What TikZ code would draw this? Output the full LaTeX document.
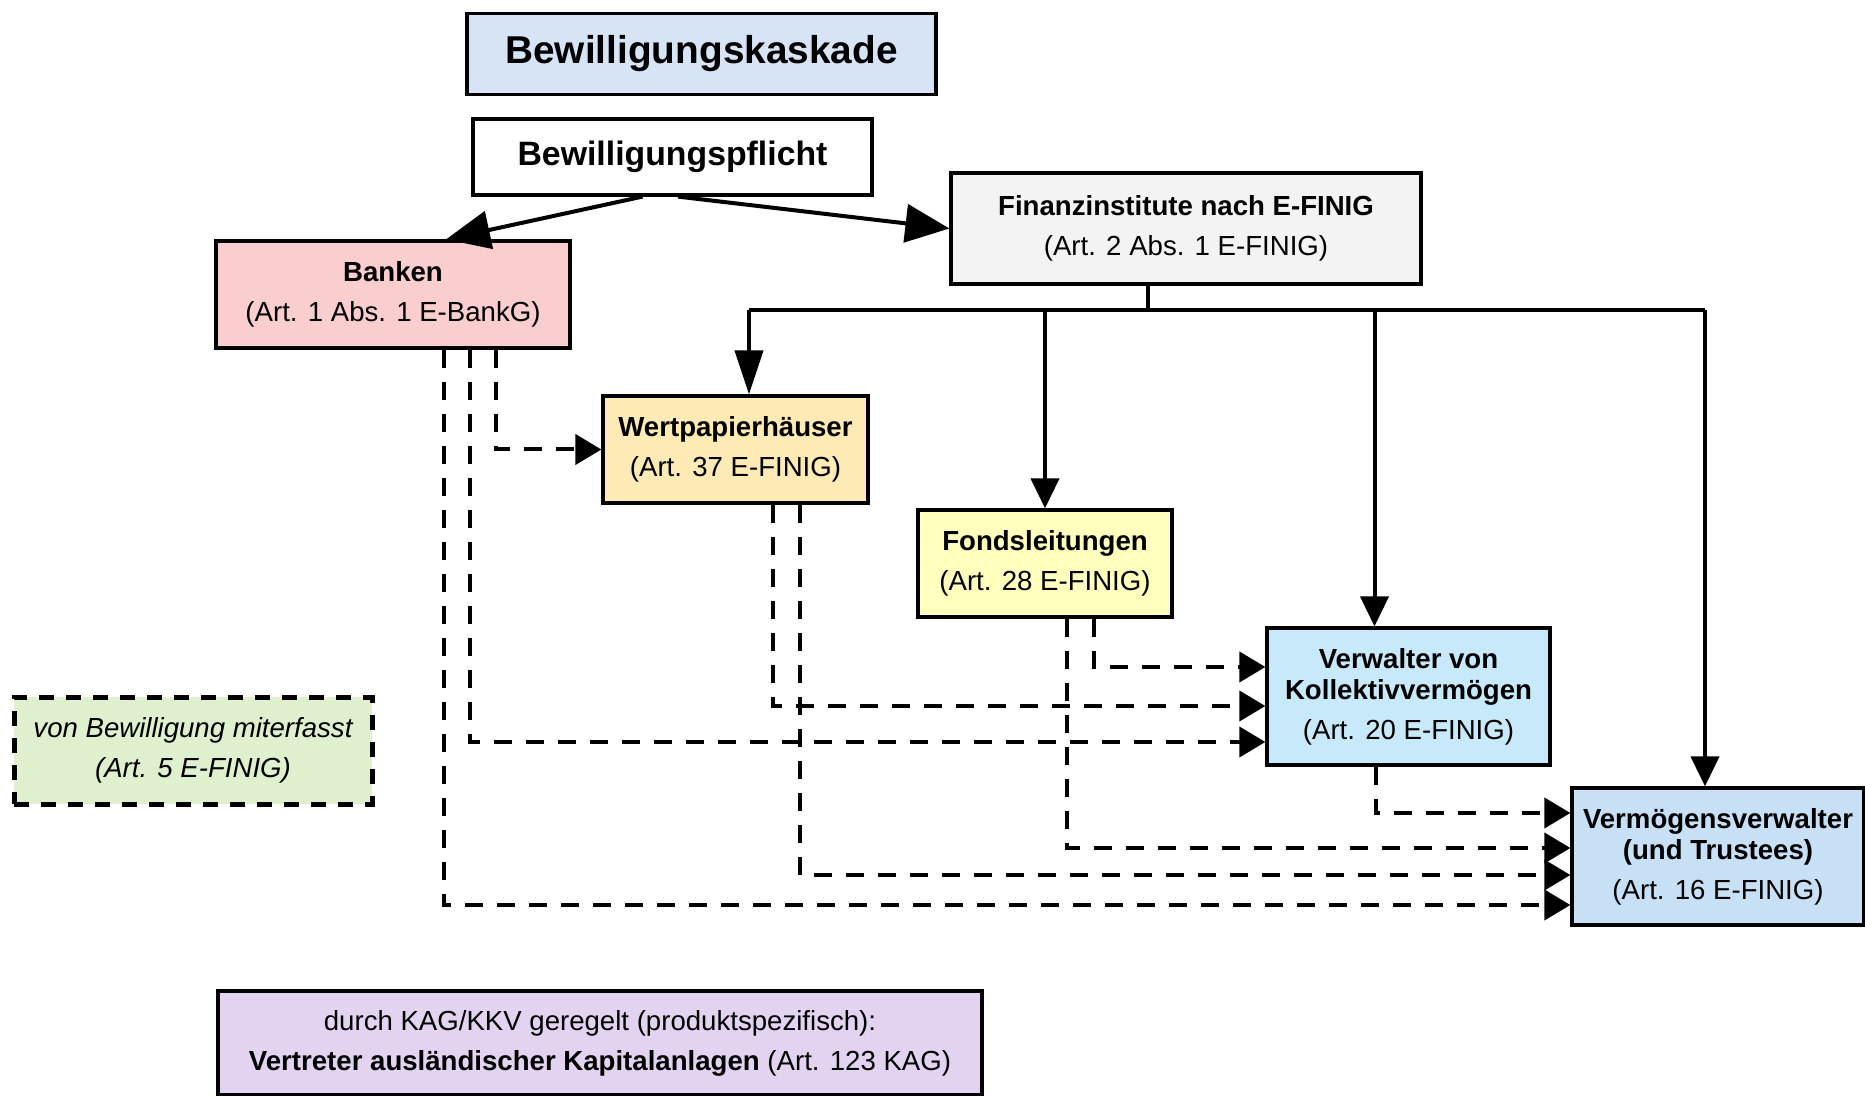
\documentclass[tikz,border=0pt]{standalone}
\usepackage{fontspec}
\setmainfont{Liberation Sans}
\usetikzlibrary{arrows.meta,calc}

\definecolor{titleblue}{RGB}{214,228,246}
\definecolor{fingrey}{RGB}{243,243,243}
\definecolor{bankpink}{RGB}{250,206,206}
\definecolor{wphorange}{RGB}{253,234,180}
\definecolor{fondsyellow}{RGB}{255,255,190}
\definecolor{vkvblue}{RGB}{200,233,250}
\definecolor{vvblue}{RGB}{200,224,245}
\definecolor{miterfgreen}{RGB}{222,240,206}
\definecolor{kaglila}{RGB}{226,212,240}

\newcommand{\boxfont}{\fontsize{13.8}{15.5}\selectfont}

\tikzset{
  box/.style={draw, line width=1.6pt, align=center, inner sep=0pt, font=\boxfont},
  conn/.style={line width=2pt},
  arr/.style={conn, -{Triangle[length=15pt,width=14pt]}},
  bigarr/.style={conn, -{Triangle[length=22pt,width=19pt]}},
  darr/.style={conn, dash pattern=on 9pt off 7pt, -{Triangle[length=13pt,width=15pt]}},
}

\begin{document}
\begin{tikzpicture}[x=0.5pt,y=-0.5pt]
\useasboundingbox (0,0) rectangle (1865,1096);

% boxes
\node[box, fill=titleblue, minimum width=234.5pt, minimum height=40.5pt,
  font=\fontsize{19.4}{22}\selectfont\bfseries] (kaskade) at (701.5,54) {Bewilligungskaskade};
\node[box, fill=white, minimum width=199.5pt, minimum height=38pt,
  font=\fontsize{16.9}{20}\selectfont\bfseries] (pflicht) at (672.5,157) {Bewilligungspflicht};
\node[box, fill=fingrey, minimum width=235pt, minimum height=55.5pt] (fin) at (1186,228.5)
  {\textbf{Finanzinstitute nach E-FINIG}\\[4.5pt](Art. 2 Abs. 1 E-FINIG)};
\node[box, fill=bankpink, minimum width=177pt, minimum height=53.5pt] (banken) at (393,294.5)
  {\textbf{Banken}\\[4.5pt](Art. 1 Abs. 1 E-BankG)};
\node[box, fill=wphorange, minimum width=132.5pt, minimum height=53.5pt] (wph) at (735.5,449.5)
  {\textbf{Wertpapierhäuser}\\[4.5pt](Art. 37 E-FINIG)};
\node[box, fill=fondsyellow, minimum width=127pt, minimum height=53.5pt] (fonds) at (1045,563.5)
  {\textbf{Fondsleitungen}\\[4.5pt](Art. 28 E-FINIG)};
\node[box, fill=vkvblue, minimum width=141.5pt, minimum height=68.5pt] (vkv) at (1408.5,696.5)
  {\textbf{Verwalter von}\\\textbf{Kollektivvermögen}\\[4.5pt](Art. 20 E-FINIG)};
\node[box, fill=vvblue, minimum width=146pt, minimum height=68.5pt] (vv) at (1718,856.5)
  {\textbf{Vermögensverwalter}\\\textbf{(und Trustees)}\\[4.5pt](Art. 16 E-FINIG)};
\node[box, fill=miterfgreen, line width=2.5pt, dash pattern=on 7.5pt off 6pt,
  minimum width=179pt, minimum height=53.5pt, font=\boxfont\itshape] (miterf) at (193,750.5)
  {von Bewilligung miterfasst\\[4.5pt](Art. 5 E-FINIG)};
\node[box, fill=kaglila, minimum width=382pt, minimum height=52pt] (kag) at (600,1043)
  {durch KAG/KKV geregelt (produktspezifisch):\\[4.5pt]\textbf{Vertreter ausländischer Kapitalanlagen} (Art. 123 KAG)};

% Bewilligungspflicht
\draw[bigarr] ([xshift=-15pt]pflicht.south) -- ([xshift=26.5pt]banken.north);
\draw[bigarr] ([xshift=2.75pt]pflicht.south) -- (fin.west);

% Finanzinstitute
\coordinate (busL) at (749,310);
\coordinate (busR) at (1705,310);
\draw[conn] ([xshift=-19pt]fin.south) -- ([xshift=-19pt]fin.south |- busL);
\draw[conn] (busL) -- (busR);
\draw[conn, -{Triangle[length=22pt,width=14pt]}] (busL) -- (busL |- wph.north);
\draw[arr] (fonds.north |- busL) -- (fonds.north);
\draw[arr] ([xshift=-17pt]vkv.north |- busL) -- ([xshift=-17pt]vkv.north);
\draw[arr] (busR) -- (busR |- vv.north);

% miterfasst
\draw[darr] ([xshift=51.5pt]banken.south) |- (wph.west);
\draw[darr] ([xshift=38.5pt]banken.south) |- ([yshift=-22.75pt]vkv.west);
\draw[darr] ([xshift=25.5pt]banken.south) |- ([yshift=-24.25pt]vv.west);
\draw[darr] ([xshift=18.75pt]wph.south) |- ([yshift=-4.75pt]vkv.west);
\draw[darr] ([xshift=32.25pt]wph.south) |- ([yshift=-9.25pt]vv.west);
\draw[darr] ([xshift=24.5pt]fonds.south) |- ([yshift=14.75pt]vkv.west);
\draw[darr] ([xshift=11pt]fonds.south) |- ([yshift=4.25pt]vv.west);
\draw[darr] ([xshift=-16.25pt]vkv.south) |- ([yshift=21.75pt]vv.west);
\end{tikzpicture}
\end{document}
